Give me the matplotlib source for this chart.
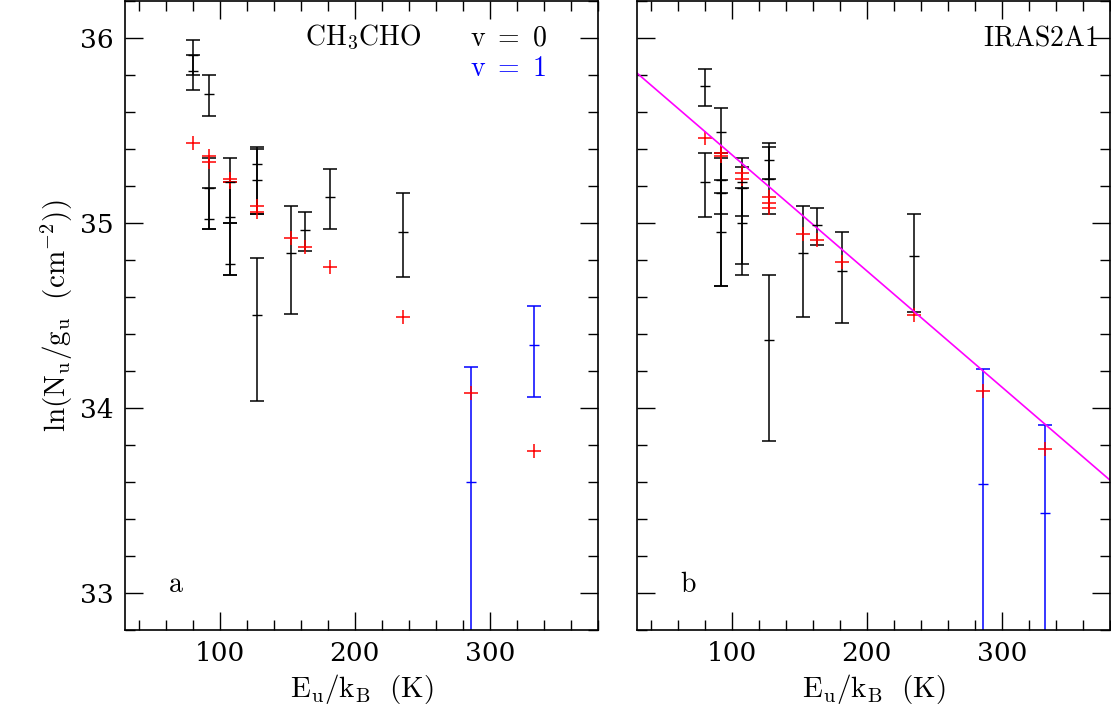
import numpy as np
import matplotlib
matplotlib.use('Agg')
import matplotlib.pyplot as plt

plt.rcParams['mathtext.fontset'] = 'cm'
plt.rcParams['font.family'] = 'serif'
plt.rcParams['font.serif'] = ['DejaVu Serif']

# panel a: black (v=0) observed points, center and error limits
a_x = [80, 80, 92, 92, 92, 108, 108, 108, 128, 128, 128, 153, 163, 182, 236]
a_y = [35.91, 35.82, 35.70, 35.19, 35.02, 35.22, 35.03, 34.78, 35.32, 35.23, 34.50, 34.84, 34.96, 35.14, 34.95]
a_lo = [35.80, 35.72, 35.58, 34.97, 34.97, 35.00, 34.72, 34.72, 35.05, 35.05, 34.04, 34.51, 34.85, 34.97, 34.71]
a_hi = [35.99, 35.91, 35.80, 35.35, 35.19, 35.35, 35.22, 35.00, 35.41, 35.40, 34.81, 35.09, 35.06, 35.29, 35.16]
# panel a: blue (v=1)
a_bx = [286, 333]
a_by = [33.60, 34.34]
a_blo = [32.0, 34.06]
a_bhi = [34.22, 34.55]
# panel a: model (red)
a_rx = [80, 92, 92, 108, 108, 128, 128, 153, 163, 182, 236, 286, 333]
a_ry = [35.43, 35.36, 35.33, 35.24, 35.22, 35.09, 35.06, 34.92, 34.87, 34.76, 34.49, 34.08, 33.77]

# panel b
b_x = [80, 80, 92, 92, 92, 92, 108, 108, 108, 128, 128, 128, 153, 163, 182, 235]
b_y = [35.74, 35.22, 35.49, 35.23, 35.16, 34.95, 35.22, 35.19, 35.00, 35.34, 35.24, 34.37, 34.84, 34.99, 34.74, 34.82]
b_lo = [35.63, 35.03, 35.16, 35.05, 34.66, 34.66, 35.04, 34.78, 34.72, 35.24, 35.05, 33.82, 34.49, 34.88, 34.46, 34.52]
b_hi = [35.83, 35.38, 35.62, 35.38, 35.35, 35.23, 35.35, 35.30, 35.19, 35.43, 35.41, 34.72, 35.09, 35.08, 34.95, 35.05]
b_bx = [286, 332]
b_by = [33.59, 33.43]
b_blo = [32.0, 32.0]
b_bhi = [34.21, 33.91]
b_rx = [80, 92, 92, 108, 108, 128, 128, 128, 153, 163, 182, 235, 286, 332]
b_ry = [35.46, 35.38, 35.36, 35.27, 35.24, 35.14, 35.11, 35.08, 34.94, 34.91, 34.79, 34.50, 34.09, 33.78]
fit_x = [30, 380]
fit_y = [35.81, 33.61]

fig = plt.figure(figsize=(11.11, 7.18), dpi=100)
axa = fig.add_axes([0.1125, 0.1226, 0.4257, 0.8760])
axb = fig.add_axes([0.5734, 0.1226, 0.4257, 0.8760])


def draw(ax, x, y, lo, hi, bx, by, blo, bhi, rx, ry):
    y = np.array(y); by = np.array(by)
    ax.errorbar(x, y, yerr=[y - np.array(lo), np.array(hi) - y], fmt='_', color='k',
                ms=7, lw=1.1, capsize=5, capthick=1.1, elinewidth=1.1)
    ax.errorbar(bx, by, yerr=[by - np.array(blo), np.array(bhi) - by], fmt='_', color='blue',
                ms=7, lw=1.1, capsize=5, capthick=1.1, elinewidth=1.1)
    ax.plot(rx, ry, '+', color='red', ms=10, mew=1.1)
    ax.set_xlim(30, 380)
    ax.set_ylim(32.8, 36.2)
    ax.set_xticks([100, 200, 300])
    ax.set_xticks(np.arange(40, 381, 20), minor=True)
    ax.set_yticks([33, 34, 35, 36])
    ax.set_yticks(np.arange(32.8, 36.21, 0.2), minor=True)
    ax.tick_params(which='both', direction='in', top=True, right=True, labelsize=19)
    ax.tick_params(which='major', length=13, width=1, pad=8)
    ax.tick_params(which='minor', length=7, width=1)
    ax.set_xlabel(r'$\mathrm{E_u/k_B\ \ (K)}$', fontsize=21)
    for s in ax.spines.values():
        s.set_linewidth(1.2)


draw(axa, a_x, a_y, a_lo, a_hi, a_bx, a_by, a_blo, a_bhi, a_rx, a_ry)
draw(axb, b_x, b_y, b_lo, b_hi, b_bx, b_by, b_blo, b_bhi, b_rx, b_ry)
axb.plot(fit_x, fit_y, color='magenta', lw=1.2)
axb.tick_params(labelleft=False)

axa.set_ylabel(r'$\mathrm{ln(N_u/g_u\ \ (cm^{-2}))}$', fontsize=21)
axa.text(0.38, 0.93, r'$\mathrm{CH_3CHO}$', transform=axa.transAxes, fontsize=20)
axa.text(0.73, 0.93, r'$\mathrm{v\ =\ 0}$', transform=axa.transAxes, fontsize=20)
axa.text(0.73, 0.88, r'$\mathrm{v\ =\ 1}$', transform=axa.transAxes, fontsize=20, color='blue')
axa.text(0.09, 0.06, r'$\mathrm{a}$', transform=axa.transAxes, fontsize=20)
axb.text(0.975, 0.93, r'$\mathrm{IRAS2A1}$', transform=axb.transAxes, fontsize=20, ha='right')
axb.text(0.09, 0.06, r'$\mathrm{b}$', transform=axb.transAxes, fontsize=20)

fig.savefig('out.png', dpi=100)
